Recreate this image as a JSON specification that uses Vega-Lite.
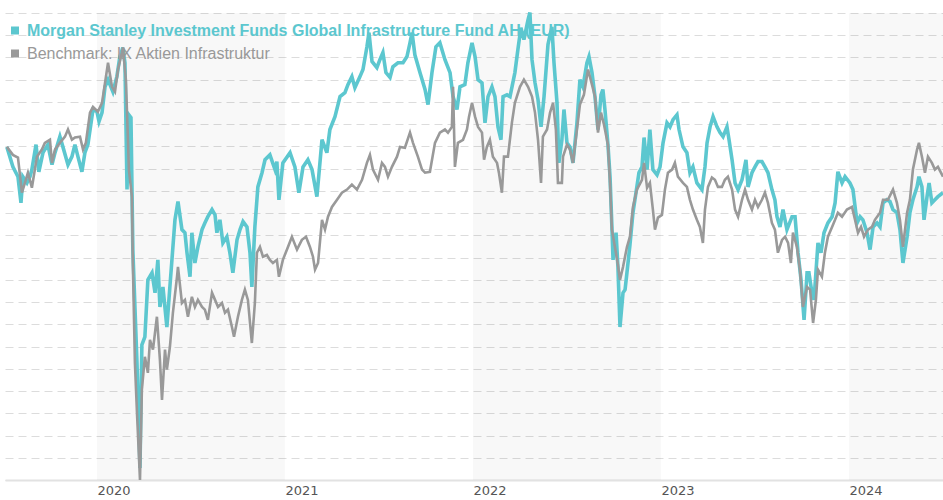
{
  "$schema": "https://vega.github.io/schema/vega-lite/v6.json",
  "width": 938,
  "height": 467,
  "padding": {"left": 5, "top": 13, "right": 0, "bottom": 20},
  "autosize": {"type": "none"},
  "background": "#ffffff",
  "config": {"view": {"stroke": null}},
  "datasets": {
    "bands": [{"start": 2020, "end": 2021}, {"start": 2022, "end": 2023}, {"start": 2024, "end": 2024.5}],
    "fund": [
      {"t":2019.521,"v":99.9},{"t":2019.553,"v":95.4},{"t":2019.580,"v":93.2},{"t":2019.596,"v":87.3},{"t":2019.606,"v":93.2},{"t":2019.628,"v":91.8},{"t":2019.644,"v":93.2},{"t":2019.654,"v":94.8},{"t":2019.676,"v":100.4},{"t":2019.691,"v":94.3},{"t":2019.713,"v":98.6},{"t":2019.739,"v":100.4},{"t":2019.761,"v":95.9},{"t":2019.777,"v":98.6},{"t":2019.803,"v":102.2},{"t":2019.819,"v":99.9},{"t":2019.846,"v":95.9},{"t":2019.867,"v":97.7},{"t":2019.883,"v":100.4},{"t":2019.899,"v":97.7},{"t":2019.920,"v":94.3},{"t":2019.936,"v":98.6},{"t":2019.952,"v":100.4},{"t":2019.979,"v":108.3},{"t":2020.000,"v":107.8},{"t":2020.011,"v":105.6},{"t":2020.027,"v":107.6},{"t":2020.043,"v":113.4},{"t":2020.059,"v":115.0},{"t":2020.085,"v":112.3},{"t":2020.106,"v":115.7},{"t":2020.122,"v":120.2},{"t":2020.138,"v":122.2},{"t":2020.149,"v":118.8},{"t":2020.160,"v":90.3},{"t":2020.170,"v":107.1},{"t":2020.181,"v":106.5},{"t":2020.191,"v":76.8},{"t":2020.213,"v":51.3},{"t":2020.229,"v":27.7},{"t":2020.239,"v":55.4},{"t":2020.255,"v":57.2},{"t":2020.271,"v":70.0},{"t":2020.293,"v":71.6},{"t":2020.309,"v":67.1},{"t":2020.324,"v":74.5},{"t":2020.335,"v":63.9},{"t":2020.351,"v":68.4},{"t":2020.372,"v":59.4},{"t":2020.388,"v":68.4},{"t":2020.415,"v":83.5},{"t":2020.431,"v":87.6},{"t":2020.452,"v":81.3},{"t":2020.468,"v":80.6},{"t":2020.479,"v":76.1},{"t":2020.495,"v":70.7},{"t":2020.505,"v":80.6},{"t":2020.521,"v":73.8},{"t":2020.537,"v":77.4},{"t":2020.559,"v":81.3},{"t":2020.574,"v":82.8},{"t":2020.590,"v":84.2},{"t":2020.612,"v":85.8},{"t":2020.628,"v":84.6},{"t":2020.638,"v":80.6},{"t":2020.654,"v":83.5},{"t":2020.670,"v":78.3},{"t":2020.691,"v":79.7},{"t":2020.707,"v":76.1},{"t":2020.723,"v":71.6},{"t":2020.745,"v":79.0},{"t":2020.761,"v":81.3},{"t":2020.777,"v":83.1},{"t":2020.798,"v":81.9},{"t":2020.814,"v":76.1},{"t":2020.824,"v":68.4},{"t":2020.840,"v":81.9},{"t":2020.856,"v":90.9},{"t":2020.878,"v":94.1},{"t":2020.894,"v":97.0},{"t":2020.920,"v":98.1},{"t":2020.947,"v":94.8},{"t":2020.957,"v":96.6},{"t":2020.968,"v":88.0},{"t":2020.989,"v":96.3},{"t":2021.027,"v":98.6},{"t":2021.053,"v":95.4},{"t":2021.074,"v":89.6},{"t":2021.096,"v":95.4},{"t":2021.122,"v":97.0},{"t":2021.144,"v":94.8},{"t":2021.170,"v":88.7},{"t":2021.197,"v":101.5},{"t":2021.223,"v":98.6},{"t":2021.239,"v":103.8},{"t":2021.266,"v":106.7},{"t":2021.293,"v":111.2},{"t":2021.319,"v":112.1},{"t":2021.335,"v":113.9},{"t":2021.356,"v":115.7},{"t":2021.372,"v":113.2},{"t":2021.399,"v":115.7},{"t":2021.415,"v":117.3},{"t":2021.436,"v":122.4},{"t":2021.447,"v":125.6},{"t":2021.463,"v":119.1},{"t":2021.489,"v":117.7},{"t":2021.505,"v":119.5},{"t":2021.521,"v":121.1},{"t":2021.537,"v":116.6},{"t":2021.559,"v":115.5},{"t":2021.574,"v":117.9},{"t":2021.601,"v":118.8},{"t":2021.628,"v":118.8},{"t":2021.649,"v":120.2},{"t":2021.665,"v":123.3},{"t":2021.676,"v":125.6},{"t":2021.691,"v":120.6},{"t":2021.718,"v":116.6},{"t":2021.745,"v":112.8},{"t":2021.761,"v":109.4},{"t":2021.782,"v":116.6},{"t":2021.803,"v":122.4},{"t":2021.824,"v":123.3},{"t":2021.851,"v":119.5},{"t":2021.878,"v":116.6},{"t":2021.894,"v":111.2},{"t":2021.915,"v":108.3},{"t":2021.931,"v":113.4},{"t":2021.957,"v":113.9},{"t":2021.973,"v":118.8},{"t":2021.995,"v":123.3},{"t":2022.011,"v":120.2},{"t":2022.027,"v":115.0},{"t":2022.048,"v":114.3},{"t":2022.064,"v":105.3},{"t":2022.080,"v":111.2},{"t":2022.101,"v":113.4},{"t":2022.117,"v":111.2},{"t":2022.133,"v":104.4},{"t":2022.149,"v":101.5},{"t":2022.160,"v":111.2},{"t":2022.181,"v":111.6},{"t":2022.197,"v":111.2},{"t":2022.223,"v":116.6},{"t":2022.239,"v":121.8},{"t":2022.255,"v":126.7},{"t":2022.271,"v":124.0},{"t":2022.293,"v":128.5},{"t":2022.303,"v":130.1},{"t":2022.314,"v":119.5},{"t":2022.330,"v":114.3},{"t":2022.346,"v":110.5},{"t":2022.362,"v":104.4},{"t":2022.378,"v":111.2},{"t":2022.399,"v":122.9},{"t":2022.410,"v":125.1},{"t":2022.420,"v":126.9},{"t":2022.431,"v":118.8},{"t":2022.447,"v":109.8},{"t":2022.457,"v":96.3},{"t":2022.473,"v":101.5},{"t":2022.484,"v":108.3},{"t":2022.500,"v":100.8},{"t":2022.516,"v":99.9},{"t":2022.532,"v":96.3},{"t":2022.553,"v":105.3},{"t":2022.569,"v":115.0},{"t":2022.585,"v":113.4},{"t":2022.606,"v":118.8},{"t":2022.617,"v":120.2},{"t":2022.633,"v":116.6},{"t":2022.649,"v":111.2},{"t":2022.665,"v":103.8},{"t":2022.681,"v":111.6},{"t":2022.691,"v":112.8},{"t":2022.702,"v":108.3},{"t":2022.718,"v":100.4},{"t":2022.729,"v":93.2},{"t":2022.739,"v":81.9},{"t":2022.745,"v":74.5},{"t":2022.761,"v":80.6},{"t":2022.771,"v":72.9},{"t":2022.782,"v":59.4},{"t":2022.798,"v":67.1},{"t":2022.809,"v":67.8},{"t":2022.819,"v":71.6},{"t":2022.835,"v":77.9},{"t":2022.851,"v":85.1},{"t":2022.867,"v":89.6},{"t":2022.883,"v":94.1},{"t":2022.899,"v":95.4},{"t":2022.910,"v":102.0},{"t":2022.926,"v":94.8},{"t":2022.941,"v":103.8},{"t":2022.957,"v":94.8},{"t":2022.979,"v":93.6},{"t":2022.995,"v":95.4},{"t":2023.011,"v":100.8},{"t":2023.032,"v":105.3},{"t":2023.048,"v":104.4},{"t":2023.064,"v":106.0},{"t":2023.085,"v":107.1},{"t":2023.096,"v":103.8},{"t":2023.117,"v":99.9},{"t":2023.138,"v":98.6},{"t":2023.154,"v":94.1},{"t":2023.170,"v":95.4},{"t":2023.191,"v":91.8},{"t":2023.218,"v":90.3},{"t":2023.234,"v":95.4},{"t":2023.245,"v":100.8},{"t":2023.261,"v":104.4},{"t":2023.277,"v":106.7},{"t":2023.298,"v":104.4},{"t":2023.314,"v":103.1},{"t":2023.330,"v":102.2},{"t":2023.351,"v":104.4},{"t":2023.362,"v":101.5},{"t":2023.378,"v":97.0},{"t":2023.394,"v":91.8},{"t":2023.410,"v":90.3},{"t":2023.431,"v":92.5},{"t":2023.452,"v":97.0},{"t":2023.463,"v":90.9},{"t":2023.484,"v":94.1},{"t":2023.500,"v":95.4},{"t":2023.516,"v":96.6},{"t":2023.537,"v":96.6},{"t":2023.553,"v":95.4},{"t":2023.569,"v":94.1},{"t":2023.590,"v":90.3},{"t":2023.606,"v":88.0},{"t":2023.617,"v":84.2},{"t":2023.633,"v":81.9},{"t":2023.649,"v":85.8},{"t":2023.670,"v":81.3},{"t":2023.697,"v":84.2},{"t":2023.713,"v":84.2},{"t":2023.729,"v":76.1},{"t":2023.745,"v":70.0},{"t":2023.761,"v":61.0},{"t":2023.777,"v":71.6},{"t":2023.787,"v":71.6},{"t":2023.803,"v":67.1},{"t":2023.814,"v":65.5},{"t":2023.835,"v":78.3},{"t":2023.851,"v":76.1},{"t":2023.867,"v":80.6},{"t":2023.888,"v":82.8},{"t":2023.910,"v":84.2},{"t":2023.926,"v":87.3},{"t":2023.941,"v":94.3},{"t":2023.963,"v":91.8},{"t":2023.979,"v":93.2},{"t":2024.005,"v":91.8},{"t":2024.021,"v":90.3},{"t":2024.043,"v":82.8},{"t":2024.059,"v":84.2},{"t":2024.074,"v":83.5},{"t":2024.096,"v":80.6},{"t":2024.112,"v":76.8},{"t":2024.128,"v":81.9},{"t":2024.149,"v":82.8},{"t":2024.165,"v":81.9},{"t":2024.181,"v":87.3},{"t":2024.202,"v":88.0},{"t":2024.218,"v":87.6},{"t":2024.234,"v":85.8},{"t":2024.255,"v":85.1},{"t":2024.271,"v":81.3},{"t":2024.287,"v":73.8},{"t":2024.309,"v":79.7},{"t":2024.324,"v":85.1},{"t":2024.340,"v":88.0},{"t":2024.362,"v":90.9},{"t":2024.372,"v":93.2},{"t":2024.388,"v":90.9},{"t":2024.399,"v":83.5},{"t":2024.415,"v":88.7},{"t":2024.426,"v":91.8},{"t":2024.441,"v":87.3},{"t":2024.457,"v":88.0},{"t":2024.473,"v":88.7},{"t":2024.500,"v":89.6}
    ],
    "bench": [
      {"t":2019.521,"v":99.9},{"t":2019.553,"v":98.1},{"t":2019.580,"v":97.5},{"t":2019.601,"v":89.6},{"t":2019.617,"v":91.8},{"t":2019.633,"v":94.1},{"t":2019.654,"v":90.7},{"t":2019.681,"v":97.7},{"t":2019.707,"v":99.3},{"t":2019.723,"v":100.8},{"t":2019.750,"v":101.5},{"t":2019.761,"v":96.3},{"t":2019.777,"v":99.3},{"t":2019.803,"v":100.8},{"t":2019.830,"v":102.2},{"t":2019.846,"v":103.8},{"t":2019.867,"v":101.5},{"t":2019.883,"v":102.0},{"t":2019.910,"v":102.2},{"t":2019.926,"v":99.3},{"t":2019.941,"v":100.8},{"t":2019.963,"v":107.6},{"t":2019.979,"v":108.9},{"t":2020.005,"v":107.8},{"t":2020.027,"v":109.8},{"t":2020.043,"v":114.3},{"t":2020.059,"v":118.8},{"t":2020.080,"v":113.4},{"t":2020.096,"v":112.3},{"t":2020.112,"v":117.3},{"t":2020.133,"v":121.1},{"t":2020.138,"v":122.2},{"t":2020.154,"v":115.0},{"t":2020.165,"v":101.5},{"t":2020.170,"v":94.8},{"t":2020.186,"v":88.7},{"t":2020.191,"v":73.8},{"t":2020.202,"v":51.3},{"t":2020.213,"v":40.1},{"t":2020.229,"v":25.0},{"t":2020.239,"v":45.3},{"t":2020.255,"v":52.7},{"t":2020.271,"v":49.1},{"t":2020.282,"v":56.5},{"t":2020.298,"v":54.3},{"t":2020.319,"v":61.7},{"t":2020.335,"v":52.0},{"t":2020.346,"v":43.0},{"t":2020.362,"v":54.3},{"t":2020.372,"v":49.8},{"t":2020.388,"v":54.9},{"t":2020.404,"v":62.6},{"t":2020.426,"v":70.7},{"t":2020.431,"v":72.9},{"t":2020.452,"v":64.8},{"t":2020.468,"v":65.5},{"t":2020.484,"v":61.7},{"t":2020.505,"v":66.2},{"t":2020.521,"v":63.9},{"t":2020.537,"v":65.5},{"t":2020.559,"v":63.9},{"t":2020.574,"v":63.3},{"t":2020.590,"v":61.0},{"t":2020.612,"v":67.1},{"t":2020.628,"v":65.5},{"t":2020.644,"v":63.9},{"t":2020.665,"v":64.8},{"t":2020.681,"v":62.6},{"t":2020.697,"v":63.3},{"t":2020.718,"v":59.4},{"t":2020.729,"v":57.2},{"t":2020.750,"v":61.7},{"t":2020.771,"v":65.5},{"t":2020.787,"v":67.8},{"t":2020.803,"v":65.5},{"t":2020.824,"v":55.8},{"t":2020.840,"v":64.8},{"t":2020.851,"v":76.1},{"t":2020.867,"v":77.4},{"t":2020.883,"v":75.2},{"t":2020.904,"v":75.6},{"t":2020.920,"v":74.5},{"t":2020.936,"v":73.8},{"t":2020.957,"v":74.5},{"t":2020.968,"v":70.7},{"t":2020.989,"v":74.5},{"t":2021.016,"v":77.4},{"t":2021.037,"v":79.7},{"t":2021.064,"v":76.8},{"t":2021.090,"v":79.0},{"t":2021.112,"v":79.7},{"t":2021.133,"v":77.4},{"t":2021.149,"v":75.2},{"t":2021.160,"v":72.3},{"t":2021.176,"v":73.8},{"t":2021.197,"v":83.5},{"t":2021.213,"v":81.3},{"t":2021.229,"v":84.2},{"t":2021.250,"v":86.4},{"t":2021.277,"v":88.0},{"t":2021.303,"v":89.6},{"t":2021.330,"v":90.3},{"t":2021.356,"v":91.4},{"t":2021.383,"v":90.3},{"t":2021.410,"v":92.5},{"t":2021.436,"v":96.3},{"t":2021.452,"v":98.1},{"t":2021.468,"v":94.8},{"t":2021.495,"v":92.5},{"t":2021.516,"v":96.3},{"t":2021.532,"v":95.4},{"t":2021.548,"v":93.2},{"t":2021.569,"v":95.4},{"t":2021.596,"v":97.7},{"t":2021.612,"v":99.9},{"t":2021.638,"v":99.7},{"t":2021.665,"v":103.1},{"t":2021.681,"v":100.8},{"t":2021.707,"v":97.7},{"t":2021.729,"v":94.8},{"t":2021.745,"v":94.1},{"t":2021.771,"v":94.3},{"t":2021.798,"v":100.8},{"t":2021.824,"v":103.1},{"t":2021.851,"v":103.8},{"t":2021.867,"v":103.1},{"t":2021.888,"v":104.4},{"t":2021.894,"v":113.4},{"t":2021.904,"v":95.4},{"t":2021.920,"v":100.8},{"t":2021.947,"v":101.5},{"t":2021.968,"v":103.8},{"t":2021.979,"v":106.7},{"t":2021.995,"v":109.8},{"t":2022.011,"v":106.7},{"t":2022.027,"v":104.4},{"t":2022.048,"v":103.1},{"t":2022.059,"v":97.0},{"t":2022.074,"v":99.9},{"t":2022.090,"v":101.5},{"t":2022.106,"v":97.7},{"t":2022.128,"v":96.3},{"t":2022.138,"v":94.1},{"t":2022.154,"v":89.6},{"t":2022.165,"v":97.7},{"t":2022.186,"v":97.7},{"t":2022.207,"v":105.3},{"t":2022.223,"v":109.8},{"t":2022.250,"v":113.4},{"t":2022.271,"v":115.0},{"t":2022.293,"v":113.4},{"t":2022.314,"v":111.2},{"t":2022.330,"v":107.6},{"t":2022.346,"v":101.5},{"t":2022.362,"v":91.8},{"t":2022.372,"v":102.2},{"t":2022.394,"v":103.8},{"t":2022.410,"v":107.6},{"t":2022.426,"v":109.8},{"t":2022.441,"v":103.8},{"t":2022.452,"v":91.8},{"t":2022.473,"v":91.8},{"t":2022.479,"v":97.7},{"t":2022.500,"v":100.4},{"t":2022.516,"v":99.3},{"t":2022.532,"v":96.3},{"t":2022.553,"v":103.8},{"t":2022.569,"v":109.4},{"t":2022.590,"v":111.6},{"t":2022.612,"v":117.3},{"t":2022.633,"v":113.9},{"t":2022.649,"v":111.2},{"t":2022.665,"v":103.1},{"t":2022.681,"v":107.6},{"t":2022.697,"v":104.9},{"t":2022.718,"v":100.4},{"t":2022.729,"v":91.8},{"t":2022.739,"v":81.3},{"t":2022.755,"v":77.4},{"t":2022.771,"v":73.4},{"t":2022.782,"v":70.0},{"t":2022.798,"v":72.9},{"t":2022.819,"v":77.4},{"t":2022.835,"v":79.7},{"t":2022.851,"v":86.4},{"t":2022.872,"v":90.3},{"t":2022.899,"v":92.5},{"t":2022.910,"v":96.3},{"t":2022.926,"v":90.7},{"t":2022.941,"v":91.8},{"t":2022.957,"v":85.8},{"t":2022.968,"v":81.3},{"t":2022.984,"v":84.0},{"t":2023.005,"v":84.6},{"t":2023.021,"v":90.3},{"t":2023.037,"v":94.1},{"t":2023.059,"v":94.8},{"t":2023.074,"v":96.3},{"t":2023.090,"v":93.2},{"t":2023.117,"v":91.8},{"t":2023.138,"v":90.9},{"t":2023.154,"v":88.0},{"t":2023.170,"v":85.8},{"t":2023.191,"v":83.5},{"t":2023.207,"v":81.9},{"t":2023.223,"v":78.3},{"t":2023.234,"v":85.8},{"t":2023.250,"v":90.9},{"t":2023.271,"v":93.0},{"t":2023.287,"v":92.5},{"t":2023.303,"v":90.9},{"t":2023.324,"v":90.9},{"t":2023.340,"v":92.5},{"t":2023.356,"v":93.2},{"t":2023.378,"v":90.3},{"t":2023.394,"v":85.8},{"t":2023.410,"v":84.2},{"t":2023.431,"v":88.0},{"t":2023.447,"v":90.3},{"t":2023.463,"v":88.0},{"t":2023.484,"v":85.8},{"t":2023.500,"v":88.0},{"t":2023.516,"v":86.4},{"t":2023.537,"v":88.0},{"t":2023.553,"v":89.6},{"t":2023.569,"v":87.3},{"t":2023.590,"v":82.8},{"t":2023.606,"v":81.3},{"t":2023.622,"v":76.1},{"t":2023.644,"v":79.0},{"t":2023.660,"v":79.7},{"t":2023.676,"v":78.3},{"t":2023.691,"v":73.8},{"t":2023.702,"v":80.6},{"t":2023.723,"v":77.4},{"t":2023.739,"v":72.3},{"t":2023.755,"v":63.9},{"t":2023.777,"v":68.4},{"t":2023.793,"v":67.8},{"t":2023.809,"v":60.3},{"t":2023.824,"v":65.5},{"t":2023.835,"v":72.3},{"t":2023.856,"v":70.7},{"t":2023.872,"v":76.1},{"t":2023.888,"v":79.7},{"t":2023.910,"v":81.9},{"t":2023.926,"v":83.5},{"t":2023.941,"v":85.1},{"t":2023.963,"v":84.2},{"t":2023.989,"v":85.8},{"t":2024.016,"v":86.4},{"t":2024.032,"v":83.5},{"t":2024.048,"v":80.6},{"t":2024.064,"v":81.9},{"t":2024.080,"v":79.7},{"t":2024.101,"v":81.3},{"t":2024.122,"v":81.9},{"t":2024.138,"v":83.5},{"t":2024.165,"v":85.1},{"t":2024.181,"v":88.0},{"t":2024.207,"v":88.0},{"t":2024.234,"v":90.3},{"t":2024.255,"v":87.3},{"t":2024.271,"v":83.5},{"t":2024.287,"v":77.4},{"t":2024.309,"v":85.1},{"t":2024.324,"v":88.0},{"t":2024.340,"v":94.8},{"t":2024.362,"v":99.3},{"t":2024.372,"v":100.8},{"t":2024.388,"v":97.7},{"t":2024.404,"v":94.1},{"t":2024.420,"v":97.7},{"t":2024.441,"v":96.3},{"t":2024.457,"v":94.8},{"t":2024.473,"v":95.4},{"t":2024.500,"v":93.2}
    ]
  },
  "encoding": {
    "x": {
      "field": "t", "type": "quantitative",
      "scale": {"domain": [2019.511, 2024.5], "nice": false, "zero": false},
      "axis": {
        "title": null, "grid": false, "ticks": false,
        "values": [2020, 2021, 2022, 2023, 2024], "format": "d",
        "labelAlign": "left", "labelPadding": 4, "labelFlush": false,
        "labelFont": "DejaVu Sans", "labelFontSize": 13, "labelColor": "#555555",
        "domainColor": "#e2e2e2", "domainWidth": 2
      }
    }
  },
  "layer": [
    {
      "data": {"name": "bands"},
      "mark": {"type": "rect", "color": "#000000", "opacity": 0.028},
      "encoding": {
        "x": {"field": "start", "type": "quantitative"},
        "x2": {"field": "end"}
      }
    },
    {
      "data": {"name": "fund"},
      "mark": {"type": "line", "strokeWidth": 3.6, "interpolate": "linear"},
      "encoding": {
        "y": {
          "field": "v", "type": "quantitative",
          "scale": {"domain": [25, 130], "nice": false, "zero": false},
          "axis": {
            "title": null, "labels": false, "ticks": false, "domain": false,
            "values": [25,30,35,40,45,50,55,60,65,70,75,80,85,90,95,100,105,110,115,120,125,130],
            "grid": true, "gridColor": "#dcdcdc", "gridDash": [8, 5], "gridWidth": 1
          }
        },
        "color": {
          "datum": "Morgan Stanley Investment Funds Global Infrastructure Fund AH (EUR)",
          "type": "nominal",
          "scale": {
            "domain": ["Morgan Stanley Investment Funds Global Infrastructure Fund AH (EUR)", "Benchmark: IX Aktien Infrastruktur"],
            "range": ["#5cc7cf", "#999999"]
          },
          "legend": {
            "title": null, "orient": "none", "legendX": 2, "legendY": 9.5,
            "padding": 0, "symbolType": "square", "symbolSize": 64,
            "symbolStrokeWidth": 0, "labelOffset": 4, "rowPadding": 7,
            "labelFont": "Liberation Sans", "labelFontSize": 16, "labelLimit": 800,
            "encode": {
              "symbols": {"update": {
                "fill": {"signal": "datum.value === 'Benchmark: IX Aktien Infrastruktur' ? '#999999' : '#5cc7cf'"},
                "stroke": {"value": "transparent"}
              }},
              "labels": {"update": {
                "fill": {"signal": "datum.value === 'Benchmark: IX Aktien Infrastruktur' ? '#999999' : '#5cc7cf'"},
                "fontWeight": {"signal": "datum.value === 'Benchmark: IX Aktien Infrastruktur' ? 'normal' : 'bold'"}
              }}
            }
          }
        }
      }
    },
    {
      "data": {"name": "bench"},
      "mark": {"type": "line", "strokeWidth": 2.6, "interpolate": "linear"},
      "encoding": {
        "y": {
          "field": "v", "type": "quantitative",
          "scale": {"domain": [25, 130], "nice": false, "zero": false},
          "axis": {
            "title": null, "labels": false, "ticks": false, "domain": false,
            "values": [25,30,35,40,45,50,55,60,65,70,75,80,85,90,95,100,105,110,115,120,125,130],
            "grid": true, "gridColor": "#dcdcdc", "gridDash": [8, 5], "gridWidth": 1
          }
        },
        "color": {"datum": "Benchmark: IX Aktien Infrastruktur", "type": "nominal"}
      }
    }
  ]
}
